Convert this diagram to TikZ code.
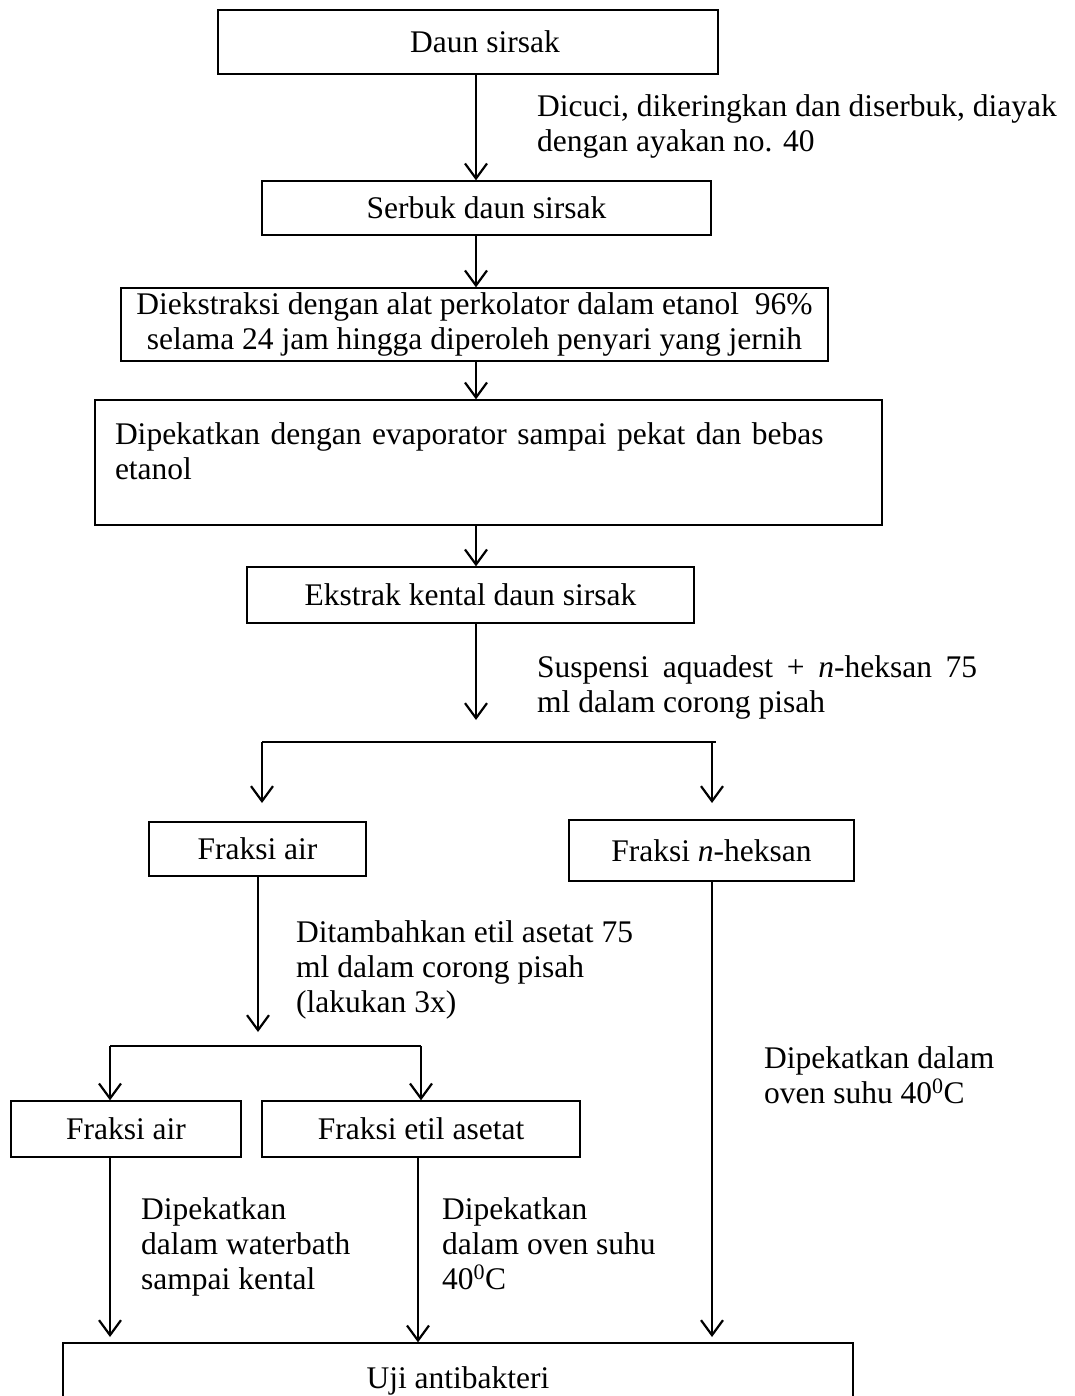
\documentclass[tikz,border=0pt]{standalone}
\usepackage{fontspec}
\setmainfont{Liberation Serif}
\usetikzlibrary{arrows.meta}
\begin{document}
\begin{tikzpicture}[x=1pt,y=-1pt,
  txt/.style={font=\fontsize{31.5}{35}\selectfont},
  box/.style={txt,draw,line width=1.3pt,inner sep=0pt,align=center},
  lbl/.style={txt,inner sep=0pt,anchor=base west,align=left},
  arr/.style={line width=2.2pt,-{Straight Barb[length=15pt,width=22pt,line width=2.2pt]}},
  ln/.style={line width=2.2pt}]
\useasboundingbox (0,0) rectangle (1074,1396);
\clip (0,0) rectangle (1074,1396);
% boxes
\node[box,minimum width=500,minimum height=64] (daun) at (468,42) {\hspace*{34pt}Daun sirsak};
\node[box,minimum width=449,minimum height=54] (serbuk) at (486.5,208) {Serbuk daun sirsak};
\node[box,minimum width=707,minimum height=73] (ekstraksi) at (474.5,324.5)
  {Diekstraksi dengan alat perkolator dalam etanol\ \ 96\%\\selama 24 jam hingga diperoleh penyari yang jernih};
\node[box,minimum width=787,minimum height=125,text width=747,align=left] (evap) at (488.5,462.5)
  {Dipekatkan dengan evaporator sampai pekat dan bebas\\etanol\rule[-22pt]{0pt}{22pt}};
\node[box,minimum width=447,minimum height=56] (ekstrak) at (470.5,595) {Ekstrak kental daun sirsak};
\node[box,minimum width=217,minimum height=54] (fair1) at (257.5,849) {Fraksi air};
\node[box,minimum width=285,minimum height=61] (fhex) at (711.5,850.5) {Fraksi \textit{n}-heksan};
\node[box,minimum width=230,minimum height=56] (fair2) at (126,1129) {Fraksi air};
\node[box,minimum width=318,minimum height=56] (fetil) at (421,1129) {Fraksi etil asetat};
\node[box,minimum width=790,minimum height=76] (uji) at (458,1381) {Uji antibakteri};
% helper coordinates
\coordinate (sp) at (476,0);
\coordinate (j1) at (476,720);
\coordinate (bl) at (262,742);
\coordinate (br) at (716,742);
\coordinate (tl) at (262,803);
\coordinate (tr) at (712,803);
\coordinate (j2) at (258,1032);
\coordinate (cl) at (110,1046);
\coordinate (cr) at (421,1046);
% connectors
\draw[arr] (daun.south -| sp) -- (serbuk.north -| sp);
\draw[arr] (serbuk.south -| sp) -- (ekstraksi.north -| sp);
\draw[arr] (ekstraksi.south -| sp) -- (evap.north -| sp);
\draw[arr] (evap.south -| sp) -- (ekstrak.north -| sp);
\draw[arr] (ekstrak.south -| sp) -- (j1);
\draw[ln] (bl) -- (br);
\draw[arr] (bl) -- (tl);
\draw[arr] (tr |- br) -- (tr);
\draw[arr] (fair1.south -| j2) -- (j2);
\draw[ln] (cl) -- (cr);
\draw[arr] (cl) -- (fair2.north -| cl);
\draw[arr] (cr) -- (fetil.north -| cr);
\draw[arr] (fair2.south -| cl) -- (110,1337);
\draw[arr] (fetil.south -| 418,0) -- (uji.north -| 418,0);
\draw[arr] (fhex.south -| tr) -- (712,1337);
% labels (base anchor = baseline of last line)
\node[lbl] (l1) at (537,152) {Dicuci, dikeringkan dan diserbuk, diayak\\dengan ayakan no. 40};
\node[lbl,text width=440,align=justify] (l2) at (537,677) {Suspensi aquadest + \textit{n}-heksan 75 ml dalam corong pisah};
\node[lbl] (l3) at (296,1012) {Ditambahkan etil asetat 75\\ml dalam corong pisah\\(lakukan 3x)};
\node[lbl] (l4) at (764,1103) {Dipekatkan dalam\\oven suhu 40\textsuperscript{0}C};
\node[lbl] (l5) at (141,1289) {Dipekatkan\\dalam waterbath\\sampai kental};
\node[lbl] (l6) at (442,1289) {Dipekatkan\\dalam oven suhu\\40\textsuperscript{0}C};
\end{tikzpicture}
\end{document}
